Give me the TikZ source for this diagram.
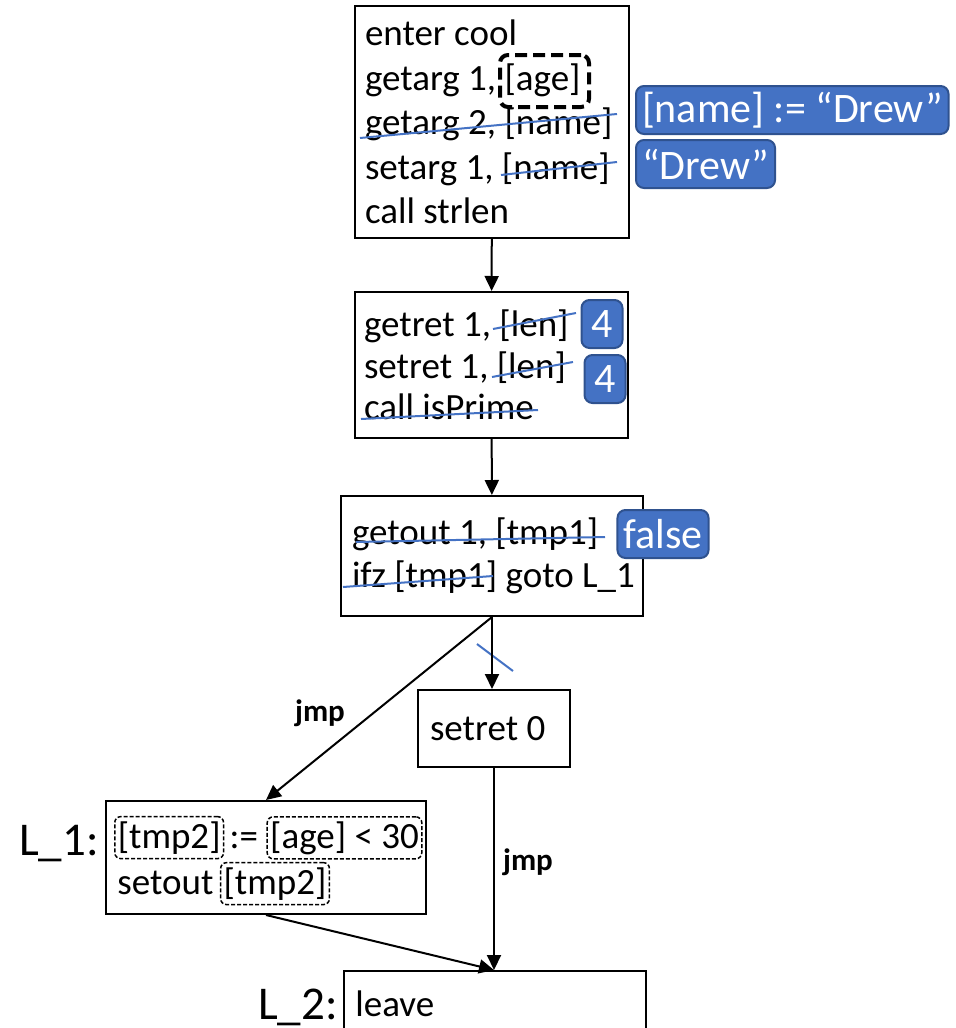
\documentclass[tikz,border=0pt]{standalone}
\usepackage{fontspec}
\setmainfont{Carlito}
\usetikzlibrary{arrows.meta,positioning}

\definecolor{valblue}{HTML}{4472C4}
\definecolor{valedge}{HTML}{2F528F}

\newcommand{\codefont}[1]{\fontsize{18.5}{#1}\selectfont}

\tikzset{
  block/.style={draw, line width=1pt, align=flush left, inner xsep=0pt, inner ysep=0pt},
  indent/.style={execute at begin node={\leftskip=#1}},
  flow/.style={-{Triangle[length=7.5pt,width=7pt]}, line width=1pt},
  strike/.style={draw=valblue, line width=1pt},
  val/.style={fill=valblue, draw=valedge, line width=1pt, rounded corners=4pt,
    text=white, font=\fontsize{21}{24}\selectfont, inner xsep=3pt, inner ysep=0pt,
    minimum height=24pt},
  varbox/.style={draw, dash pattern=on 2pt off 1pt, line width=0.75pt, rounded corners=3pt,
    inner xsep=1.5pt, inner ysep=0pt, minimum height=21pt, font=\codefont{22pt}},
  labeltxt/.style={font=\fontsize{23.5}{26}\selectfont, inner sep=0pt},
  jmplabel/.style={font=\bfseries\fontsize{15.5}{18}\selectfont}
}

\begin{document}
\begin{tikzpicture}[x=0.5pt, y=-0.5pt]
  \useasboundingbox (0,0) rectangle (955,1028);
  \clip (0,0) rectangle (955,1028);

  % blocks
  \node[block, indent=5pt, text width=137pt, minimum height=116pt, font=\codefont{22.25pt}] (b1) at (492,122)
    {enter cool\\getarg 1, [age]\\getarg 2, [name]\\setarg 1, [name]\\call strlen};
  \node[block, indent=4.5pt, text width=136.5pt, minimum height=73pt, font=\codefont{20.75pt}] (b2) at (491.5,365)
    {getret 1, [len]\\setret 1, [len]\\call isPrime};
  \node[block, indent=5.5pt, text width=151pt, minimum height=60pt, font=\codefont{21.5pt}] (b3) at (492,556)
    {getout 1, [tmp1]\\ifz [tmp1] goto L\_1};
  \node[block, indent=6pt, text width=76pt, minimum height=38.5pt, font=\codefont{22pt}] (sr) at (494,728.5)
    {setret 0};
  \node[block, minimum width=160pt, minimum height=56.5pt] (l1) at (266,857.5) {};
  \node[block, anchor=north west, minimum width=151pt, minimum height=60pt] (lv) at (343,970) {};

  % L_1 contents
  \node[varbox, anchor=base west] (tmpa) at (114,848) {[tmp2]};
  \node[anchor=base west, inner sep=0pt, font=\codefont{22pt}] (assign) at ([xshift=2.5pt]tmpa.base east) {:=};
  \node[varbox, anchor=base west] (agelt) at ([xshift=4pt]assign.base east) {[age] < 30};
  \node[anchor=base west, inner sep=0pt, font=\codefont{22pt}] (setout) at (117,894) {setout};
  \node[varbox, anchor=base west] (tmpb) at ([xshift=3pt]setout.base east) {[tmp2]};
  \node[anchor=base west, inner sep=0pt, font=\codefont{22pt}] (leave) at (355,1016) {leave};

  \node[labeltxt, anchor=base east] (lab1) at (99,855) {L\_1:};
  \node[labeltxt, anchor=base east] (lab2) at (338,1019) {L\_2:};

  % dashed marker on the first argument
  \node[draw, line width=2pt, dash pattern=on 6pt off 3pt, rounded corners=4pt,
    minimum width=44.5pt, minimum height=26pt] (agemark) at (544.5,81) {};

  % values
  \node[val, anchor=west] (nameval) at (635,110) {[name] := “Drew”};
  \node[val, anchor=west] (drewval) at (635,164) {“Drew”};
  \node[val, minimum width=20.5pt] (lenval1) at (602,324) {4};
  \node[val, minimum width=20.5pt] (lenval2) at (605,379) {4};
  \node[val] (falseval) at (663,534) {false};

  % strike-outs
  \draw[strike] (360,138) -- (617,114);
  \draw[strike] (501,175) -- (617,162);
  \draw[strike] (493,329) -- (576,313);
  \draw[strike] (492,377) -- (573,362);
  \draw[strike] (361,419) -- (538,410);
  \draw[strike] (356,542) -- (605,537);
  \draw[strike] (343,587) -- (493,576);
  \draw[strike] (477,644) -- (513,671);

  % edges
  \draw[flow] (b1) -- (b2);
  \draw[flow] (b2) -- (b3);
  \draw[flow] (b3.south) -- (b3.south |- sr.north);
  \draw[flow] (b3.south) -- (l1.north);
  \draw[flow] (sr.south) -- (sr.south |- lv.north);
  \draw[flow] (l1.south) -- (sr.south |- lv.north);

  \node[jmplabel] (jmpa) at (320,713) {jmp};
  \node[jmplabel] (jmpb) at (528,862) {jmp};
\end{tikzpicture}
\end{document}
